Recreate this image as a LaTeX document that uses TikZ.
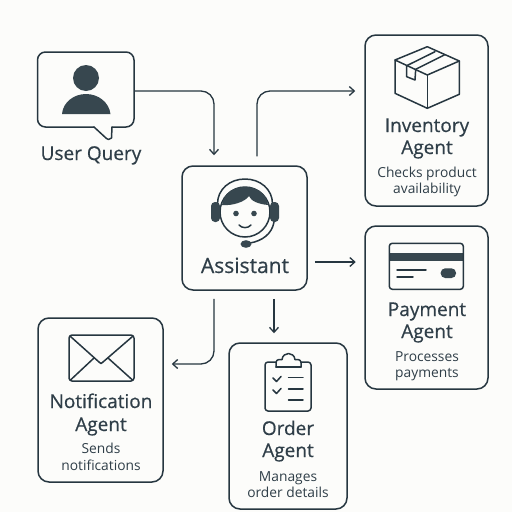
\documentclass[tikz,border=0pt]{standalone}
\usepackage{fontspec}
\setmainfont{Open Sans}
\newfontfamily\titlefont[FakeBold=0.5]{Open Sans}
\usetikzlibrary{calc,arrows.meta}
\definecolor{bgc}{HTML}{FCFCFA}
\definecolor{ink}{HTML}{263640}
\definecolor{iconc}{HTML}{37474F}
\definecolor{txt}{HTML}{2F3E48}
\tikzset{
  box/.style={rectangle,rounded corners=11pt,draw=ink,line width=1.5pt,inner sep=0pt},
  conn/.style={draw=ink,line width=1.3pt,rounded corners=13pt,-{Straight Barb[length=5pt,width=9pt,line width=1.3pt]}},
  icon/.style={draw=ink,line width=1.5pt,line join=round,line cap=round},
  solid ic/.style={fill=iconc,draw=none},
  title/.style={anchor=base,inner sep=0pt,text=txt,font=\titlefont\fontsize{19}{19}\selectfont},
  sub/.style={anchor=base,inner sep=0pt,text=txt,font=\fontsize{13.8}{14}\selectfont},
}
\begin{document}
\begin{tikzpicture}[x=1pt,y=-1pt]
\useasboundingbox (0,0) rectangle (512,512);
\fill[bgc] (0,0) rectangle (512,512);

% boxes
\node[rectangle,minimum width=96.5pt,minimum height=75pt,inner sep=0pt] (user) at (85.75,91) {};
\node[box,minimum width=125pt,minimum height=124pt] (assistant) at (244.5,228) {};
\node[box,minimum width=123pt,minimum height=171pt] (inventory) at (426.5,120.5) {};
\node[box,minimum width=123pt,minimum height=163pt] (payment) at (426.5,307.5) {};
\node[box,minimum width=125pt,minimum height=164pt] (notification) at (100.5,400) {};
\node[box,minimum width=118pt,minimum height=166pt] (order) at (288,426) {};

% user bubble
\draw[icon,rounded corners=8pt] (94,127) -- (37.5,127) -- (37.5,52) -- (134,52) -- (134,127) -- (112,127);
\draw[icon] (94,127) -- (106.5,138.5) -- (108.5,139.5) -- (111.5,138) -- (112,127);
\fill[solid ic] (86,78) circle (13);
\fill[solid ic] (62,114) .. controls (63,102) and (74,94) .. (86,94) .. controls (98,94) and (109,102) .. (110.5,114) -- cycle;

% connectors
\draw[conn] (user.east) -| ($(assistant.north)+(-30.5,-10)$);
\draw[conn] ($(assistant.north)+(12.5,-9)$) |- ($(inventory.west)+(-9,-29.5)$);
\draw[conn] ($(assistant.east)+(7,34)$) -- ($(payment.west)+(-8.5,-45.5)$);
\draw[conn] ($(assistant.south)+(-30.5,8)$) |- ($(notification.east)+(8,-36)$);
\draw[conn] ($(assistant.south)+(29.5,8)$) -- ($(order.north)+(-14,-9)$);

% assistant icon
\draw[icon] (245,212) circle (25);
\fill[solid ic] (222,205) .. controls (224,193) and (233,187) .. (245,187) .. controls (257,187) and (266,193) .. (268,205) .. controls (258,204) and (251,201) .. (249,196) .. controls (245,202) and (232,206) .. (222,205) -- cycle;
\draw[icon] (217.5,204) .. controls (217.5,189) and (230,179) .. (245,179) .. controls (260,179) and (272.5,189) .. (272.5,204);
\fill[solid ic,rounded corners=4pt] (211,202) rectangle (220,222);
\fill[solid ic,rounded corners=4pt] (270,202) rectangle (279,222);
\fill[solid ic] (236,213.5) circle (2.8);
\fill[solid ic] (254,213.5) circle (2.8);
\draw[icon] (239,225) .. controls (242,228.5) and (248,228.5) .. (251,225);
\draw[icon] (274,222) .. controls (272,234) and (262,241) .. (250,243);
\fill[solid ic] (246,244) ellipse (5.5 and 3.8);
\node[title,font=\titlefont\fontsize{21}{21}\selectfont] (tAssistant) at (245,273) {Assistant};

% inventory icon
\draw[icon] (427.3,46.7) -- (395,60) -- (427.3,75) -- (459.3,61) -- cycle;
\draw[icon] (395,60) -- (395,93.3) -- (427.3,108.3) -- (459.3,94.3) -- (459.3,61);
\draw[icon] (427.3,75) -- (427.3,108.3);
\draw[icon] (435,51.7) -- (406.7,65.7) -- (406.7,76.7) -- (415,80) -- (415.7,69.3) -- (444.3,55);
\node[title] (tInv1) at (427,132) {Inventory};
\node[title] (tInv2) at (427,154) {Agent};
\node[sub] (tInv3) at (427,177) {Checks product};
\node[sub] (tInv4) at (427,193.5) {availability};

% payment icon
\fill[solid ic] (389.3,253.3) rectangle (463.3,261);
\draw[icon,rounded corners=3pt] (389.3,243.3) rectangle (463.3,289.3);
\draw[icon] (397,270) -- (426,270);
\draw[icon] (397,277) -- (413,277);
\fill[solid ic,rounded corners=4.5pt] (440.7,268.3) rectangle (456,278);
\node[title] (tPay1) at (427,316) {Payment};
\node[title] (tPay2) at (427,338) {Agent};
\node[sub] (tPay3) at (427,361) {Processes};
\node[sub] (tPay4) at (427,377) {payments};

% notification icon
\draw[icon,rounded corners=3pt] (69,335) rectangle (134,381);
\draw[icon] (70.5,336.5) -- (99,362) -- (101,363.5) -- (103,362) -- (132.5,336.5);
\draw[icon] (70.5,380) -- (94,358);
\draw[icon] (132.5,380) -- (108,358);
\node[title] (tNot1) at (101,408) {Notification};
\node[title] (tNot2) at (101,431) {Agent};
\node[sub] (tNot3) at (101,453) {Sends};
\node[sub] (tNot4) at (101,470) {notifications};

% order icon
\draw[icon,rounded corners=3pt] (276,362) -- (265,362) -- (265,411) -- (311,411) -- (311,362) -- (301,362);
\draw[icon,rounded corners=3pt] (276,367) -- (276,359.5) -- (282,359.5);
\draw[icon,rounded corners=3pt] (301,367) -- (301,359.5) -- (295,359.5);
\draw[icon] (276,367) -- (301,367);
\draw[icon] (282,359.5) .. controls (283,351.5) and (294,351.5) .. (295,359.5);
\draw[icon] (273,378) -- (276.5,381.5) -- (281,376.5);
\draw[icon] (273,390) -- (276.5,393.5) -- (281,388.5);
\draw[icon] (288.5,377.5) -- (303,377.5);
\draw[icon] (288.5,389) -- (303,389);
\draw[icon] (288.5,400) -- (303,400);
\node[title] (tOrd1) at (288,435) {Order};
\node[title] (tOrd2) at (288,457) {Agent};
\node[sub] (tOrd3) at (288,481) {Manages};
\node[sub] (tOrd4) at (288,497) {order details};

\node[title] (tUser) at (91,160) {User Query};
\end{tikzpicture}
\end{document}
